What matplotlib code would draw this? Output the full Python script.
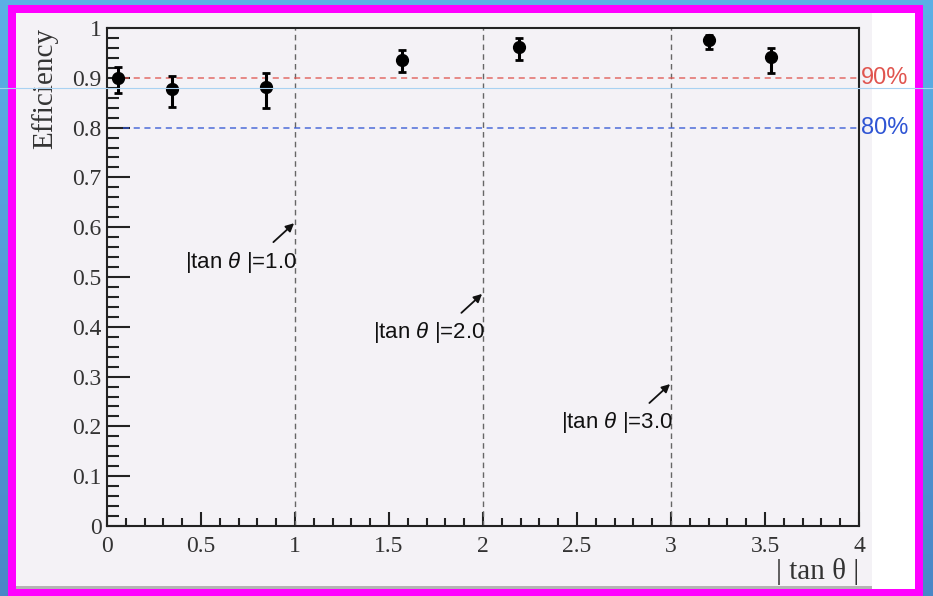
import numpy as np
import matplotlib
matplotlib.use("Agg")
import matplotlib.pyplot as plt
from matplotlib.patches import Rectangle
from matplotlib.lines import Line2D
from matplotlib.ticker import MultipleLocator, FuncFormatter

# data
tan_theta = [0.058, 0.346, 0.846, 1.569, 2.19, 3.20, 3.53]
efficiency = [0.900, 0.877, 0.881, 0.936, 0.962, 0.976, 0.942]
err_up = [0.022, 0.027, 0.029, 0.020, 0.018, 0.010, 0.018]
err_down = [0.031, 0.036, 0.042, 0.024, 0.026, 0.018, 0.032]
boundaries = [1.0, 2.0, 3.0]
boundary_labels = ["|tan $\\theta$ |=1.0", "|tan $\\theta$ |=2.0", "|tan $\\theta$ |=3.0"]
label_y = [0.530, 0.388, 0.207]
thresholds = [0.9, 0.8]
threshold_labels = ["90%", "80%"]
threshold_colors = ["#e0554f", "#2f55d4"]

plt.rcParams["mathtext.fontset"] = "custom"
plt.rcParams["mathtext.it"] = "Liberation Sans:italic"
plt.rcParams["mathtext.rm"] = "Liberation Sans"

W, H = 933, 596
fig = plt.figure(figsize=(W / 100, H / 100), dpi=100)

# slide background, frame and panel (pixel coords)
bg = fig.add_axes([0, 0, 1, 1], zorder=-10)
bg.set_xlim(0, W)
bg.set_ylim(H, 0)
bg.axis("off")
grad = np.linspace(0, 1, 256).reshape(-1, 1)
top = np.array([0.36, 0.69, 0.90])
bot = np.array([0.29, 0.53, 0.78])
img = top + grad[..., None] * (bot - top)
bg.imshow(img, extent=[0, W, H, 0], aspect="auto")
bg.add_patch(Rectangle((8, 5), 915, 600, facecolor="#ff00ff", edgecolor="none"))
bg.add_patch(Rectangle((16, 13), 899, 576, facecolor="white", edgecolor="none"))
bg.add_patch(Rectangle((16, 13), 856, 573, facecolor="#f4f2f6", edgecolor="none"))
bg.add_patch(Rectangle((16, 586), 856, 2.5, facecolor="#b4b4b4", edgecolor="none"))

ax = fig.add_axes([107 / W, 1 - 526 / H, (859 - 107) / W, (526 - 28) / H])
ax.set_facecolor("none")
ax.set_xlim(0, 4)
ax.set_ylim(0, 1)

for b in boundaries:
    ax.plot([b, b], [0, 1], color="#666666", lw=1, ls=(0, (4, 3)))
for t, c, lab in zip(thresholds, threshold_colors, threshold_labels):
    ax.plot([0.085, 4], [t, t], color=c, lw=1.1, ls=(0, (4, 3)), alpha=0.85)
    ax.text(4.01, t, lab, color=c, fontsize=17, family="Liberation Sans",
            va="center", ha="left", clip_on=False)

ax.errorbar(tan_theta, efficiency, yerr=[err_down, err_up], fmt="o", color="black",
            markersize=8.5, elinewidth=2.2, capsize=3, capthick=2, zorder=5)

for b, lab, ly in zip(boundaries, boundary_labels, label_y):
    ax.text(b + 0.012, ly, lab, fontsize=16, family="Liberation Sans",
            ha="right", va="center", color="#111111")
    ax.annotate("", xy=(b - 0.005, ly + 0.078), xytext=(b - 0.115, ly + 0.04),
                arrowprops=dict(arrowstyle="-|>", color="#111111", lw=1.3,
                                mutation_scale=12, shrinkA=0, shrinkB=0))

ax.xaxis.set_major_locator(MultipleLocator(0.5))
ax.xaxis.set_minor_locator(MultipleLocator(0.1))
ax.yaxis.set_major_locator(MultipleLocator(0.1))
ax.yaxis.set_minor_locator(MultipleLocator(0.02))
fmt = FuncFormatter(lambda v, p: "%g" % round(v, 2))
ax.xaxis.set_major_formatter(fmt)
ax.yaxis.set_major_formatter(fmt)
ax.tick_params(axis="both", which="both", direction="in", colors="#222222",
               labelcolor="#333333", labelsize=17, width=1.5)
ax.tick_params(axis="y", which="major", length=16.5, pad=4)
ax.tick_params(axis="y", which="minor", length=8.5)
ax.tick_params(axis="x", which="major", length=10, pad=7)
ax.tick_params(axis="x", which="minor", length=5.5)
for lbl in ax.get_xticklabels() + ax.get_yticklabels():
    lbl.set_family("Liberation Serif")
for s in ax.spines.values():
    s.set_linewidth(1.5)
    s.set_color("#222222")

ax.set_xlabel("| tan θ |", loc="right", fontsize=21, family="Liberation Serif",
              color="#333333", labelpad=1)
ax.set_ylabel("Efficiency", loc="top", fontsize=21, family="Liberation Serif",
              color="#333333", labelpad=10)

# faint guide line crossing the slide
fig.add_artist(Line2D([0, 1], [1 - 88 / H, 1 - 88 / H], color="#a9d2f2", lw=0.8, zorder=20))

fig.savefig("out.png", dpi=100)
